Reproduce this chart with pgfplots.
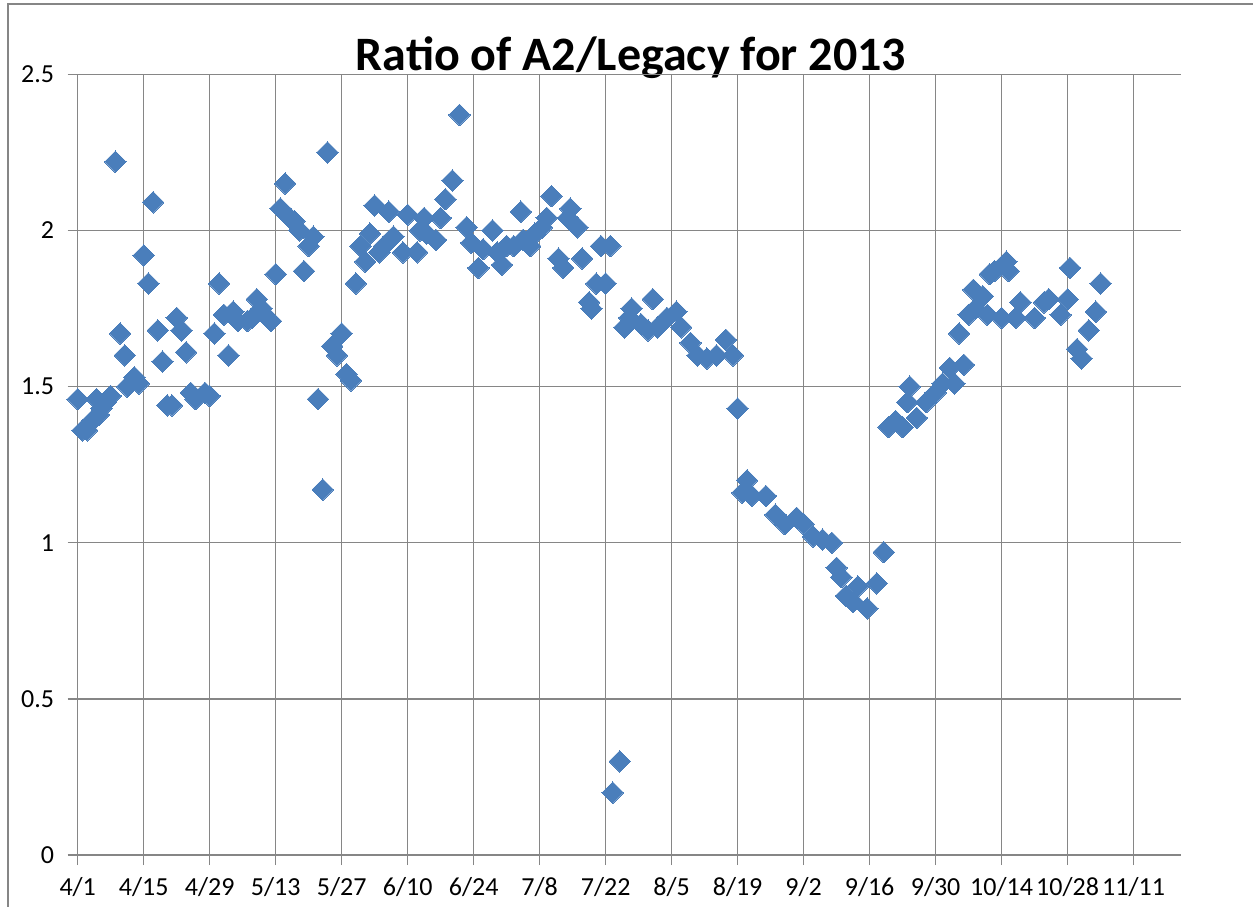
\documentclass[border=0pt]{standalone}
\usepackage{pgfplots}
\pgfplotsset{compat=1.18}
\usepackage{fontspec}
\setmainfont{Carlito}
\definecolor{gridgray}{HTML}{868686}
\definecolor{markblue}{HTML}{4A7EBB}
\begin{document}
\begin{tikzpicture}[x=1pt,y=1pt]
\path[use as bounding box] (0,0) rectangle (1253,907);
\draw[gridgray, line width=2pt] (8,0) -- (8,903) -- (1253,903);
\node[anchor=base, font=\fontsize{48}{48}\selectfont\bfseries] at (631,836) {Ratio of A2/Legacy for 2013};
\begin{axis}[
  at={(77.7pt,51.9pt)}, anchor=south west,
  scale only axis, width=1103pt, height=780.8pt,
  xmin=0, xmax=234, ymin=0, ymax=2.5,
  axis lines*=left,
  axis line style={draw=gridgray, line width=1.3pt},
  grid=major,
  major grid style={draw=gridgray, line width=1.3pt},
  tick style={draw=gridgray, line width=1.3pt},
  tick align=outside,
  major tick length=10pt,
  xtick={0,14,...,224},
  xticklabels={4/1,4/15,4/29,5/13,5/27,6/10,6/24,7/8,7/22,8/5,8/19,9/2,9/16,9/30,10/14,10/28,11/11},
  ytick={0,0.5,1,1.5,2,2.5},
  yticklabels={0,0.5,1,1.5,2,2.5},
  tick label style={font=\fontsize{26}{26}\selectfont},
  xticklabel style={yshift=-9pt},
  yticklabel style={xshift=-10pt},
  clip=false,
]
\addplot[only marks, mark=square*, mark size=7.6pt,
  mark options={rotate=45, fill=markblue, draw=markblue, line width=0pt}]
table {
x y
0 1.46
1 1.36
2 1.36
3 1.39
4 1.46
4.5 1.41
5 1.43
6 1.45
7 1.47
8 2.22
9 1.67
10 1.60
10.5 1.50
12 1.53
13 1.51
14 1.92
15 1.83
16 2.09
17 1.68
18 1.58
19 1.44
20 1.44
21 1.72
22 1.68
23 1.61
24 1.48
25 1.46
27 1.48
28 1.47
29 1.67
30 1.83
31 1.73
32 1.60
33 1.74
34 1.71
36 1.71
37 1.72
38 1.78
39 1.75
41 1.71
42 1.86
43 2.07
44 2.15
45 2.04
46 2.03
47 2.00
48 1.87
49 1.95
50 1.98
51 1.46
52 1.17
53 2.25
54 1.63
55 1.60
56 1.67
57 1.54
58 1.52
59 1.83
60 1.95
61 1.90
62 1.99
63 2.08
64 1.93
65 1.95
66 2.06
67 1.98
69 1.93
70 2.05
72 1.93
72.6 2.00
73.5 2.04
74 1.99
76 1.97
77 2.04
78 2.10
79.5 2.16
81 2.37
82.5 2.01
83.5 1.96
85 1.88
86 1.94
88 2.00
89 1.93
90 1.89
91 1.95
92.5 1.95
94 2.06
94.5 1.97
96 1.95
97 1.99
98.5 2.01
99.5 2.04
100.5 2.11
102 1.91
103 1.88
104 2.04
104.5 2.07
106 2.01
107 1.91
108.5 1.77
109 1.75
110 1.83
111 1.95
112 1.83
113 1.95
113.5 0.20
115 0.30
116 1.69
117 1.72
117.5 1.75
119.5 1.70
121 1.68
122 1.78
123 1.69
125 1.72
127 1.74
128 1.69
130 1.64
131.5 1.60
133.5 1.59
135.5 1.60
137.5 1.65
139 1.60
140 1.43
141 1.16
142 1.20
143 1.15
146 1.15
148 1.09
150 1.06
152.5 1.08
154 1.06
156 1.02
158 1.01
160 1.00
161 0.92
162 0.89
163 0.83
164.5 0.81
165.5 0.86
167.5 0.79
169.5 0.87
171 0.97
172 1.37
173.5 1.39
175 1.37
176 1.45
176.5 1.50
178 1.40
180 1.45
182 1.48
183.5 1.51
185 1.56
186 1.51
187 1.67
188 1.57
189 1.73
190 1.81
190.5 1.75
192 1.79
193 1.73
193.5 1.86
194.5 1.87
196 1.72
197 1.90
197.5 1.87
199 1.72
200 1.77
203 1.72
205 1.77
206 1.78
208.5 1.73
210 1.78
210.5 1.88
212 1.62
213 1.59
214.5 1.68
216 1.74
217 1.83
};
\end{axis}
\end{tikzpicture}
\end{document}
